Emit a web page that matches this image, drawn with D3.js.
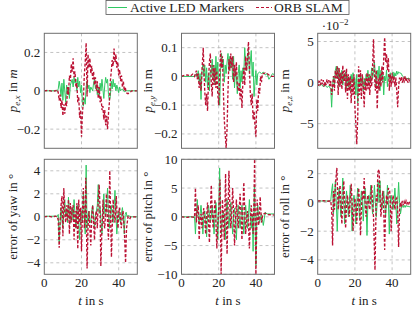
<!DOCTYPE html>
<html>
<head>
<meta charset="utf-8">
<script src="https://cdn.jsdelivr.net/npm/d3@7"></script>
<style>
  body { margin: 0; background: #fff; }
  svg text { font-family: 'Liberation Serif', 'DejaVu Serif', serif; fill: #222; }
</style>
</head>
<body>
<svg id="chart" width="415" height="309" font-family="Liberation Serif, DejaVu Serif, serif"></svg>
<script>
// ---- data: [t in s, value] ----
var seriesNames = ['Active LED Markers', 'ORB SLAM'];
var xTicks = [0, 20, 40];

// p_e,x in m
var pxLed = [[0,0],[7,0],[7.5,0.01],[8,0.05],[8.5,0.02],[9,-0.03],[9.5,0.04],[10,-0.05],[10.5,0.06],[11,0.0],[11.5,-0.06],[12,0.03],[12.5,-0.02],[13,0.02],[13.5,-0.04],[14,0.03],[15,0.06],[15.5,0.02],[16,0.07],[16.5,0.04],[17,0.06],[17.5,0.0],[18,0.07],[18.5,0.02],[19,0.05],[19.5,-0.01],[20,0.03],[20.5,-0.06],[21,-0.08],[21.5,-0.04],[22,-0.07],[22.5,0.02],[23,0.05],[23.5,0.01],[24,0.03],[24.5,-0.01],[25,0.02],[26,0.0],[26.5,0.04],[27,0.06],[27.5,0.01],[28,0.03],[28.5,-0.02],[29,0.02],[29.5,-0.03],[30,0.04],[30.5,0.0],[31,0.06],[31.5,0.01],[32,-0.04],[32.5,0.03],[33,0.07],[33.5,0.04],[34,0.06],[34.5,-0.02],[35,-0.05],[35.5,-0.03],[36,0.05],[36.5,0.01],[37,0.06],[37.5,0.02],[38,0.04],[38.5,0.0],[39,0.03],[40,-0.01],[40.5,0.02],[41,0.0],[42,0.01],[43,-0.005],[44,0.0],[45,0],[50,0]];
var pxOrb = [[0,0],[2,0.002],[4,-0.002],[6,0],[7,0.005],[7.5,-0.01],[8,-0.05],[8.5,-0.02],[9,-0.09],[9.5,-0.05],[10,-0.13],[10.5,-0.07],[11,-0.12],[11.5,-0.06],[12,-0.08],[12.5,0.02],[13,-0.02],[13.5,0.08],[14,0.05],[14.5,0.14],[15,0.1],[15.5,0.17],[16,0.07],[16.5,0.1],[17,0.02],[17.5,0.04],[18,-0.06],[18.5,-0.03],[19,-0.14],[19.5,-0.1],[20,-0.24],[20.5,-0.12],[21,-0.05],[21.5,0.08],[22,0.15],[22.5,0.25],[23,-0.03],[23.5,0.19],[24,0.12],[24.5,0.17],[25,0.09],[25.5,0.13],[26,0.06],[26.5,0.1],[27,0.03],[27.5,0.07],[28,0.0],[28.5,0.05],[29,-0.04],[29.5,0.02],[30,-0.06],[30.5,-0.03],[31,-0.1],[31.5,-0.08],[32,-0.15],[32.5,-0.1],[33,-0.18],[33.5,-0.13],[34,-0.2],[34.5,-0.12],[35,-0.06],[35.5,0.05],[36,0.1],[36.5,0.16],[37,0.13],[37.5,0.22],[38,0.15],[38.5,0.19],[39,0.12],[39.5,0.15],[40,0.08],[40.5,0.11],[41,0.05],[41.5,0.08],[42,0.02],[42.5,0.05],[43,0.0],[43.5,0.02],[44,-0.01],[45,-0.015],[46,-0.01],[47,0],[50,0]];
var pxTicks = [-0.2, 0, 0.2];

// p_e,y in m
var pyLed = [[0,0],[7,0],[8,0.01],[8.5,-0.005],[9,0.02],[9.5,-0.02],[10,0.01],[10.5,-0.08],[11,0.02],[11.5,0.04],[12,0.0],[12.5,0.04],[13,-0.02],[13.5,0.03],[14,-0.04],[14.5,0.01],[15,-0.05],[15.5,0.02],[16,0.01],[16.5,0.06],[17,-0.01],[17.5,0.04],[18,-0.03],[18.5,0.07],[19,0.0],[19.5,0.05],[20,-0.02],[20.5,-0.1],[21,0.02],[21.5,0.08],[22,0.03],[22.5,0.06],[23,-0.02],[23.5,0.04],[24,0.01],[24.5,0.05],[25,0.08],[25.5,0.02],[26,0.07],[26.5,0.03],[27,0.06],[27.5,-0.01],[28,0.07],[28.5,-0.04],[29,0.02],[29.5,0.0],[30,-0.06],[30.5,0.01],[31,0.04],[31.5,-0.04],[32,0.02],[32.5,-0.02],[33,0.03],[33.5,0.01],[34,0.1],[34.5,0.04],[35,0.02],[35.5,0.06],[36,0.09],[36.5,0.01],[37,0.05],[37.5,0.09],[38,0.0],[38.5,0.05],[39,-0.07],[39.5,-0.02],[40,0.02],[40.5,-0.03],[41,0.01],[42,0.015],[43,0.01],[44,0.015],[45,0.005],[46,0.01],[47,-0.01],[48,0.0],[49,0.01],[50,0.005]];
var pyOrb = [[0,0],[1,0.003],[3,0.005],[5,0.002],[6,0.008],[7,0],[7.5,0.01],[8,0.02],[8.5,-0.01],[9,0.01],[9.5,-0.04],[10,-0.01],[10.5,-0.05],[11,0.02],[11.7,0.1],[12,0.03],[12.5,-0.05],[13,-0.1],[13.5,-0.06],[14,-0.12],[14.5,-0.02],[15,0.05],[15.5,0.08],[16,-0.02],[16.5,-0.07],[17,0.04],[17.5,-0.03],[18,0.03],[18.5,-0.04],[19,0.02],[19.5,-0.06],[20,-0.1],[20.5,0.0],[21,0.09],[21.5,0.03],[22,0.07],[22.5,-0.05],[23,-0.15],[23.5,-0.2],[24,-0.25],[24.5,-0.18],[25,-0.05],[25.5,0.06],[26,0.02],[26.5,0.08],[27,0.03],[27.5,0.07],[28,-0.02],[28.5,0.04],[29,0.0],[29.5,0.05],[30,-0.03],[30.5,-0.05],[31,-0.02],[31.5,-0.08],[32,-0.04],[32.5,-0.11],[33,-0.02],[33.5,0.03],[34,-0.03],[34.5,0.07],[35,0.02],[35.5,0.07],[36,0.12],[36.5,0.03],[37,-0.06],[37.5,-0.1],[38,-0.06],[38.5,-0.15],[39,-0.12],[39.5,-0.17],[40,-0.21],[40.5,-0.08],[41,-0.12],[41.5,-0.04],[42,-0.06],[42.5,0.0],[43,-0.02],[43.5,0.01],[44,0.01],[45,0.012],[46,0.01],[47,0.005],[48,0],[50,0]];
var pyTicks = [-0.2, -0.1, 0, 0.1];

// p_e,z in 10^-2 m
var pzLed = [[0,-0.2],[1,-0.4],[2,-0.2],[3,-0.5],[4,-0.3],[5,-0.6],[6,-0.4],[7,-0.8],[7.5,-3],[8,-0.5],[8.5,0.8],[9,-0.3],[9.5,1.5],[10,2],[10.5,0.5],[11,1.8],[11.5,-0.5],[12,1.2],[12.5,0.3],[13,1.5],[13.5,-0.3],[14,1],[14.5,0.5],[15,1.3],[15.5,-0.8],[16,0.8],[16.5,-0.5],[17,0.5],[17.5,-1],[18,1],[18.5,0],[19,1.2],[19.5,-0.5],[20,0.5],[20.5,-1.5],[21,1],[21.5,-2.5],[22,0.5],[22.5,-0.5],[23,1],[23.5,0],[24,0.8],[24.5,-1],[25,0.5],[25.5,-0.5],[26,1],[26.5,0.2],[27,1.5],[27.5,-0.3],[28,1],[28.5,0.3],[29,1.8],[29.5,0.5],[30,1.2],[30.5,2.5],[31,1],[31.5,-0.5],[32,1.5],[32.5,0.5],[33,2],[33.5,-1],[34,1.5],[34.5,0.2],[35,1],[35.5,-1.5],[36,0.8],[36.5,0.2],[37,1.5],[37.5,-0.5],[38,1],[38.5,0.5],[39,1.2],[39.5,0.2],[40,0.8],[40.5,1.3],[41,0.5],[41.5,1.2],[42,0.8],[42.5,1.4],[43,1],[43.5,1.3],[44,1.2],[45,1.1],[45.5,0.8],[46,0.7],[47,0.6],[48,0.5],[49,0.5],[50,0.4]];
var pzOrb = [[0,0.3],[0.5,-0.4],[1,0.2],[1.5,-0.3],[2,0.4],[2.5,-0.2],[3,0.3],[3.5,-0.5],[4,0.1],[4.5,-0.3],[5,0.4],[5.5,-0.1],[6,0.3],[6.5,-0.4],[7,0.2],[7.5,-1.5],[8,-0.5],[8.5,0.8],[9,-1],[9.5,1.5],[10,0.5],[10.5,2],[11,-1.5],[11.5,1.8],[12,-0.5],[12.5,1.2],[13,-0.8],[13.5,2.1],[14,0.2],[14.5,1.5],[15,-1.2],[15.5,1.7],[16,-2],[16.5,1],[17,-1],[17.5,0.8],[18,-2.5],[18.5,0.5],[19,-1.5],[19.5,1],[20,-3],[20.5,-5],[21,-7.5],[21.5,-4.5],[22,2],[22.5,-1.5],[23,1.5],[23.5,-2],[24,1],[24.5,-0.5],[25,-3],[25.5,0.5],[26,-1],[26.5,1.2],[27,-0.8],[27.5,1],[28,-1.5],[28.5,0.8],[29,-0.5],[29.5,2],[30,5.3],[30.5,1],[31,-1],[31.5,1.5],[32,-3.2],[32.5,0.5],[33,-1],[33.5,1],[34,-0.5],[34.5,2],[35,0],[35.5,3],[36,5.5],[36.5,2.5],[37,3.5],[37.5,1.5],[38,3],[38.5,-1],[39,1],[39.5,-0.5],[40,1.2],[40.5,0],[41,0.8],[41.5,-0.5],[42,0.6],[42.5,-1],[43,-3],[43.5,-0.5],[44,0.6],[44.5,0.2],[45,0.7],[45.5,0],[46,0.5],[46.5,0.2],[47,0.8],[47.5,0.1],[48,0.5],[48.5,0],[49,0.4],[49.5,0.1],[50,0.2]];
var pzTicks = [-5, 0, 5];

// error of yaw in degrees
var yawLed = [[0,0.05],[7,0.05],[7.5,0.2],[8,-2.2],[8.5,-0.5],[9,0.8],[9.5,-0.3],[10,-1],[10.5,0.5],[11,1.5],[11.5,0],[12,0.5],[12.5,-0.5],[13,1.7],[13.5,0.3],[14,-0.5],[14.5,0.4],[15,0.8],[15.5,-0.3],[16,1.5],[16.5,0.2],[17,-1],[17.5,0.3],[18,1],[18.5,-0.5],[19,-2],[19.5,0],[20,0.5],[20.5,-0.5],[21,2.2],[21.5,0.2],[22,-1.5],[22.5,4.5],[23,-1],[23.5,0.2],[24,0.5],[24.5,-0.3],[25,-0.5],[25.5,0.5],[26,1],[26.5,0],[27,-1],[27.5,0.2],[28,0.5],[28.5,1],[29,2.8],[29.5,0.3],[30,0.8],[30.5,-0.5],[31,-1.5],[31.5,0.5],[32,2],[32.5,0.3],[33,0],[33.5,1],[34,2.5],[34.5,0.2],[35,-1],[35.5,0.3],[36,1],[36.5,0],[37,-0.5],[37.5,0.8],[38,2.3],[38.5,0.2],[39,-1.5],[39.5,0],[40,0.5],[40.5,-0.2],[41,-0.5],[41.5,0.3],[42,0.8],[42.5,0],[43,-1.5],[43.5,0.2],[44,0.4],[44.5,0],[45,0.1],[46,0.05],[47,0],[50,0]];
var yawOrb = [[0,0],[2,0.05],[4,0],[6,0.05],[7,0],[7.5,-0.3],[8,-2.7],[8.5,-0.5],[9,1],[9.5,1.8],[10,-1.7],[10.5,2.5],[11,0.2],[11.5,-0.5],[12,1],[12.5,-0.3],[13,1.5],[13.5,-1.5],[14,1.2],[14.5,-0.5],[15,0.8],[15.5,1],[16,-2],[16.5,0.5],[17,-1],[17.5,1.2],[18,-2.8],[18.5,1.5],[19,-0.5],[19.5,0.8],[20,-3],[20.5,0.5],[21,2.5],[21.5,-1],[22,0.5],[22.3,3.4],[23,-4.5],[23.5,-1],[24,0.5],[24.5,-1],[25,-2.5],[25.5,0],[26,1],[26.5,-0.5],[27,-2],[27.5,0],[28,0.5],[28.5,-1],[29,1.5],[29.5,2.8],[30,0.5],[30.4,-4.3],[31,-1],[31.6,1.5],[32,-0.5],[32.5,-1],[33,0.5],[33.4,2],[34,-0.5],[34.5,-2],[35.2,4],[35.6,0.5],[36.1,-3.5],[36.5,-1],[37,1.5],[37.5,0.2],[38,-0.5],[38.7,1.8],[39.2,0],[39.6,-1],[40,0.3],[40.5,0.8],[41,-0.3],[41.4,-1],[42,0.2],[42.3,0.5],[43,-1],[43.7,-4],[44.2,-1],[45,0],[45.9,-0.2],[46.5,0],[50,0]];
var yawTicks = [-4, -2, 0, 2, 4];

// error of pitch in degrees
var pitchLed = [[0,0],[7,0],[7.5,-3],[8,0.5],[8.5,3],[9,0],[9.5,-1],[10,0.5],[10.5,2],[11,0],[11.5,-3],[12,0],[12.5,1],[13,-0.5],[13.5,-3.5],[14,0],[14.5,2],[15,0.5],[15.5,-1],[16,0],[16.5,2],[17,0],[17.5,-3],[18,0],[18.5,2.5],[19,0.5],[19.5,-4],[20,0],[20.5,8.5],[21,1],[21.5,-3],[22,0],[22.5,1],[23,0],[23.5,-4],[24,0],[24.5,3],[25,0],[25.5,-2],[26,0.5],[26.5,2.5],[27,0],[27.5,-3],[28,0],[28.5,1.5],[29,0],[29.5,-4],[30,0],[30.5,2],[31,0],[31.5,-2],[32,0],[32.5,2],[33,0],[33.5,-3],[34,0],[34.5,2],[35,0],[35.5,-2],[36,0],[36.5,3],[37,0],[37.5,-2],[38,0.5],[38.5,-6],[39.2,5.5],[40,-8.5],[40.5,0],[41,2],[41.5,0],[42,-1],[42.5,0],[43,0.5],[44,-1.5],[45,0.8],[46,0.5],[48,0.5],[50,0.5]];
var pitchOrb = [[0,0],[3,-0.1],[5,0],[7,-0.1],[7.5,5],[8,-1],[8.5,1],[9,2],[9.5,-4],[10,-0.5],[10.5,0.5],[11,-2],[11.5,0.2],[12,1.5],[12.5,-0.5],[13,-3],[13.5,0],[14,2.5],[14.5,-0.5],[15,-4.5],[15.5,0.5],[16,5.5],[16.5,1],[17,-2],[17.5,0.5],[18,3],[18.5,-1],[19,-5.5],[19.5,-1],[20,1],[20.7,6.5],[21.3,-10],[22,3],[22.5,0],[23,-4],[23.7,7.5],[24.5,-6.5],[25,1],[25.5,8],[26,2],[26.5,-2],[27,0.5],[27.5,5],[28,1],[28.5,-5],[29,-1],[29.5,3],[30,0],[30.5,-2],[31,1],[31.5,4],[32,0.5],[32.5,-4],[33,1],[33.5,6],[34,1],[34.5,-3],[35,-0.5],[35.5,1],[36,-1],[36.5,-5.5],[37,-1],[37.5,2],[38,0],[38.5,-3],[39,3],[39.3,10],[40,-10],[40.7,3],[41,0.5],[41.5,-1.5],[42,1],[42.3,3.5],[43,-1],[43.5,0],[44,0.5],[45,0.6],[46,0.4],[48,0.35],[50,0.3]];
var pitchTicks = [-10, -5, 0, 5, 10];

// error of roll in degrees
var rollLed = [[0,0.1],[7,0.1],[7.5,0.8],[8,1.3],[8.5,-0.8],[9,0.3],[9.5,1.5],[10,0],[10.5,-2],[11,0],[11.5,1],[12,0],[12.5,-1],[13,0.3],[13.5,1.7],[14,0],[14.5,-1.5],[15,0],[15.5,0.8],[16,0],[16.5,-1],[17,0],[17.5,1.2],[18,0],[18.5,-2],[19,0],[19.5,0.5],[20,0],[20.5,-1.5],[21,0],[21.5,1],[22,0],[22.5,-1.2],[23,0],[23.5,0.8],[24,0],[24.5,-1.3],[25,0],[25.5,1],[26,0],[26.5,-2.3],[27,0],[27.5,0.5],[28,0],[28.5,1.2],[29,0],[29.5,-0.8],[30,0],[30.5,1.2],[31,0],[31.5,-1],[32,0],[32.5,1.5],[33,0],[33.5,1.5],[34,0],[34.5,-0.5],[35,0],[35.5,0.8],[36,0],[36.5,-1],[37,0],[37.5,1.2],[38,0],[38.5,-2.2],[39,0],[39.5,0.5],[40,0],[40.5,-0.5],[41,0],[41.5,1],[42,0],[42.5,-1.5],[43,0],[43.5,1.4],[44,0],[44.5,-0.8],[45,-0.4],[45.5,-0.2],[46,-0.35],[46.5,-0.2],[47,-0.35],[47.5,-0.2],[48,-0.3],[48.5,-0.25],[49,-0.3],[50,-0.3]];
var rollOrb = [[0,0.1],[3,0.12],[5,0.08],[7,0.1],[7.5,-0.5],[8,-3],[8.5,0.8],[9,-0.5],[9.5,1.2],[10.3,2.4],[11,-0.5],[11.5,0.3],[12,1.2],[12.5,-0.3],[13,-1.5],[13.5,0.2],[14,1.5],[14.5,0],[15,-1.8],[15.5,-0.3],[16,0.5],[16.5,-0.2],[17,-1],[17.5,0.2],[18,1.3],[18.5,0],[19,-2],[19.5,-0.5],[20,0.3],[20.5,-0.3],[21,-1.5],[21.5,0],[22,1],[22.5,0],[23,-2.3],[23.5,-0.5],[24,0.8],[24.5,0.2],[25,1.7],[25.5,0],[26,-1],[26.5,0],[27,0.5],[27.5,-0.2],[28,-0.5],[28.5,0.3],[29,1.2],[29.5,0],[30,-1],[30.8,-4.7],[31.5,0.5],[32,0],[32.3,2.1],[33,2.3],[33.5,0.5],[34,-1],[34.5,0],[35,0.8],[35.5,-0.5],[36,-3.3],[36.5,-0.5],[37,0.5],[37.5,-0.2],[38,1],[38.7,0.8],[39,0],[39.5,-2],[40,-0.3],[40.5,0.5],[41,0],[41.5,-0.5],[42,0.2],[42.5,0.3],[43,-0.5],[43.5,-3.1],[44,-0.5],[44.5,0],[45,-0.2],[45.5,0.1],[46,-0.2],[46.5,0.05],[47,-0.15],[47.5,0.1],[48,-0.1],[48.5,0.05],[49,-0.1],[49.5,0.05],[50,0]];
var rollTicks = [-4, -2, 0, 2];

var colors = { led: '#2fc862', orb: '#bb1234' };
var serif = "'Liberation Serif', 'DejaVu Serif', serif";

var panels = [
  { led: pxLed, orb: pxOrb, domain: [-0.3, 0.3], ticks: pxTicks, label: 'px', col: 0, row: 0 },
  { led: pyLed, orb: pyOrb, domain: [-0.25, 0.15], ticks: pyTicks, label: 'py', col: 1, row: 0 },
  { led: pzLed, orb: pzOrb, domain: [-8, 6], ticks: pzTicks, label: 'pz', col: 2, row: 0 },
  { led: yawLed, orb: yawOrb, domain: [-5, 5], ticks: yawTicks, label: 'error of yaw in °', col: 0, row: 1 },
  { led: pitchLed, orb: pitchOrb, domain: [-10, 10], ticks: pitchTicks, label: 'error of pitch in °', col: 1, row: 1 },
  { led: rollLed, orb: rollOrb, domain: [-5, 3], ticks: rollTicks, label: 'error of roll in °', col: 2, row: 1 }
];

var svg = d3.select('#chart');
var lefts = [44.3, 181.5, 317.7], tops = [33.3, 159.3];
var plotW = 93, plotH = 115;
var labelX = [12, 147, 284];

var fmt = function (v) { return (v < 0 ? '\u2212' : '') + Math.abs(v); };

panels.forEach(function (p, i) {
  var x0 = lefts[p.col], y0 = tops[p.row];
  var x = d3.scaleLinear().domain([0, 50]).range([x0, x0 + plotW]);
  var y = d3.scaleLinear().domain(p.domain).range([y0 + plotH, y0]);
  var g = svg.append('g');

  g.append('clipPath').attr('id', 'clip' + i)
    .append('rect').attr('x', x0).attr('y', y0).attr('width', plotW).attr('height', plotH);

  // grid
  g.selectAll('.gx').data(xTicks.filter(function (t) { return t > 0; })).enter().append('line')
    .attr('x1', function (d) { return x(d); }).attr('x2', function (d) { return x(d); })
    .attr('y1', y0).attr('y2', y0 + plotH)
    .attr('stroke', '#b4b4b4').attr('stroke-width', 0.8).attr('stroke-dasharray', '3,3');
  g.selectAll('.gy').data(p.ticks).enter().append('line')
    .attr('x1', x0).attr('x2', x0 + plotW)
    .attr('y1', function (d) { return y(d); }).attr('y2', function (d) { return y(d); })
    .attr('stroke', '#b4b4b4').attr('stroke-width', 0.8).attr('stroke-dasharray', '3,3');

  var line = d3.line().x(function (d) { return x(d[0]); }).y(function (d) { return y(d[1]); });

  g.append('path').datum(p.led).attr('d', line).attr('clip-path', 'url(#clip' + i + ')')
    .attr('fill', 'none').attr('stroke', colors.led).attr('stroke-width', 1);
  g.append('path').datum(p.orb).attr('d', line).attr('clip-path', 'url(#clip' + i + ')')
    .attr('fill', 'none').attr('stroke', colors.orb).attr('stroke-width', 1.35)
    .attr('stroke-dasharray', '3,1.8');

  // frame
  g.append('rect').attr('x', x0).attr('y', y0).attr('width', plotW).attr('height', plotH)
    .attr('fill', 'none').attr('stroke', '#6e6e6e').attr('stroke-width', 1);

  // y tick labels
  g.selectAll('.yt').data(p.ticks).enter().append('text')
    .attr('x', x0 - 4).attr('y', function (d) { return y(d); }).attr('dy', '0.35em')
    .attr('text-anchor', 'end').style('font-family', serif).style('font-size', '13px')
    .text(fmt);

  // x tick labels on bottom row
  if (p.row === 1) {
    g.selectAll('.xt').data(xTicks).enter().append('text')
      .attr('x', function (d) { return x(d); }).attr('y', y0 + plotH + 13)
      .attr('text-anchor', 'middle').style('font-family', serif).style('font-size', '13px')
      .text(fmt);
    var xl = g.append('text').attr('x', x0 + plotW / 2).attr('y', y0 + plotH + 31)
      .attr('text-anchor', 'middle').style('font-family', serif).style('font-size', '13px');
    xl.append('tspan').style('font-style', 'italic').text('t');
    xl.append('tspan').text(' in s');
  }

  // y axis label
  var yl = g.append('text')
    .attr('transform', 'translate(' + labelX[p.col] + ',' + (y0 + plotH / 2) + ') rotate(-90)')
    .attr('text-anchor', 'middle').attr('dy', '0.35em')
    .style('font-family', serif).style('font-size', '13px');
  if (p.row === 0) {
    var sub = { px: 'e,x', py: 'e,y', pz: 'e,z' }[p.label];
    yl.append('tspan').style('font-style', 'italic').text('p');
    yl.append('tspan').attr('dy', 3).style('font-size', '9px').style('font-style', 'italic').text(sub);
    yl.append('tspan').attr('dy', -3).text(' in ');
    yl.append('tspan').style('font-style', p.label === 'px' ? 'italic' : 'normal').text('m');
  } else {
    yl.text(p.label);
  }

  // scale factor for p_e,z
  if (p.label === 'pz') {
    var sc = g.append('text').attr('x', x0 + 4).attr('y', y0 - 3)
      .style('font-family', serif).style('font-size', '13px');
    sc.append('tspan').text('\u00b710');
    sc.append('tspan').attr('dy', -5).style('font-size', '9px').text('\u22122');
  }
});

// legend
var lg = svg.append('g');
lg.append('rect').attr('x', 106).attr('y', 0.5).attr('width', 243).attr('height', 14)
  .attr('fill', '#fff').attr('stroke', '#555').attr('stroke-width', 0.8);
lg.append('line').attr('x1', 108).attr('x2', 127).attr('y1', 7.5).attr('y2', 7.5)
  .attr('stroke', colors.led).attr('stroke-width', 1);
lg.append('text').attr('x', 130).attr('y', 11.5)
  .style('font-family', serif).style('font-size', '13.5px').text(seriesNames[0]);
lg.append('line').attr('x1', 256).attr('x2', 272).attr('y1', 7.5).attr('y2', 7.5)
  .attr('stroke', colors.orb).attr('stroke-width', 1.2).attr('stroke-dasharray', '3,2');
lg.append('text').attr('x', 274).attr('y', 11.5)
  .style('font-family', serif).style('font-size', '13.5px').text(seriesNames[1]);
</script>
</body>
</html>
